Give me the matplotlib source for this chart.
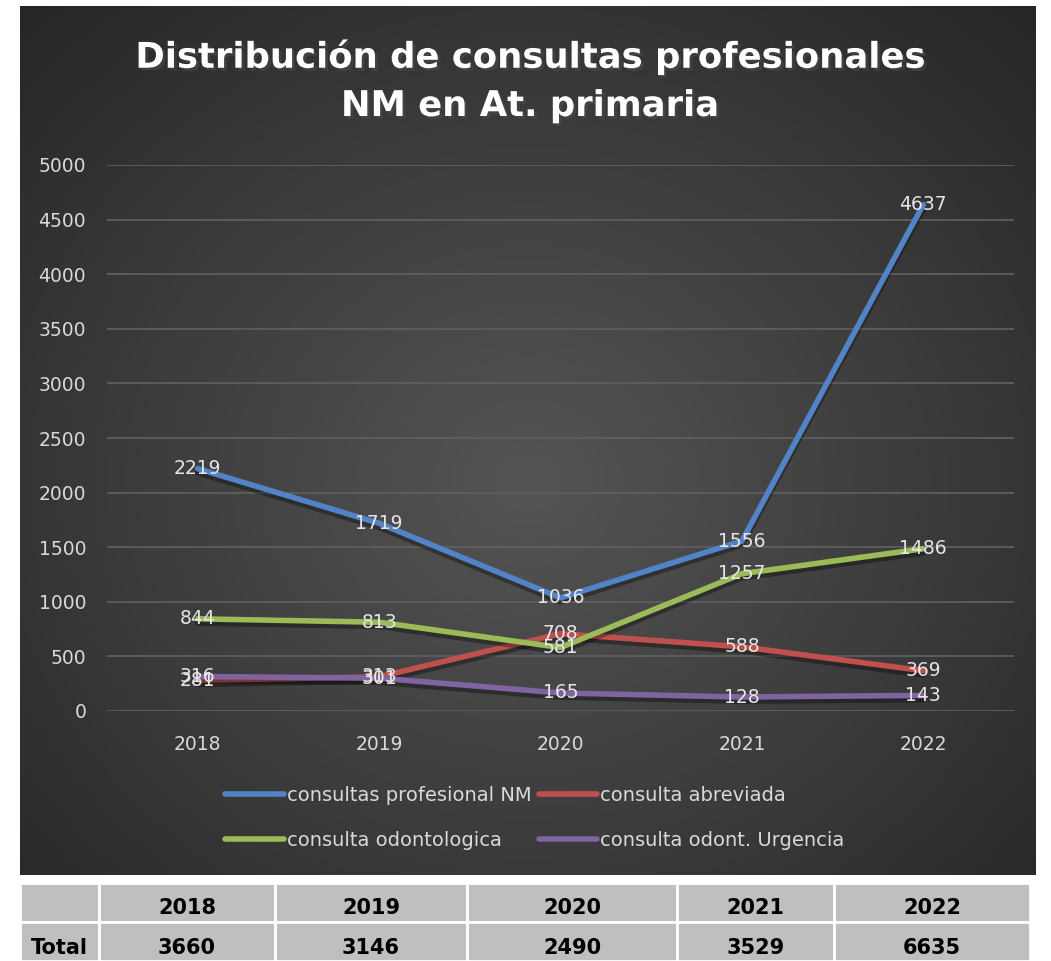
import matplotlib
matplotlib.use("Agg")
import matplotlib.pyplot as plt
import matplotlib.patheffects as pe
import numpy as np

years = ["2018", "2019", "2020", "2021", "2022"]
prof_nm = [2219, 1719, 1036, 1556, 4637]
abreviada = [281, 313, 708, 588, 369]
odonto = [844, 813, 581, 1257, 1486]
urgencia = [316, 301, 165, 128, 143]
totals = [3660, 3146, 2490, 3529, 6635]

series = [
    ("consultas profesional NM", prof_nm, "#5283c6"),
    ("consulta abreviada", abreviada, "#c0504d"),
    ("consulta odontologica", odonto, "#9bbb59"),
    ("consulta odont. Urgencia", urgencia, "#8064a2"),
]

W, H = 1051, 961
fig = plt.figure(figsize=(W / 100, H / 100), dpi=100)
fig.patch.set_facecolor("white")

def box(x0, y0, x1, y1):
    return [x0 / W, 1 - y1 / H, (x1 - x0) / W, (y1 - y0) / H]

# dark background with radial gradient
bg = fig.add_axes(box(20, 6, 1036, 875))
yy, xx = np.mgrid[0:1:400j, 0:1:400j]
r = np.sqrt((xx - 0.5) ** 2 + ((yy - 0.55) * 0.95) ** 2)
r = np.clip(r / 0.72, 0, 1)
c0 = np.array([0x55, 0x55, 0x55]) / 255
c1 = np.array([0x26, 0x26, 0x26]) / 255
img = c0[None, None, :] * (1 - r[..., None]) + c1[None, None, :] * r[..., None]
bg.imshow(img, aspect="auto", extent=[0, 1, 0, 1])
bg.set_axis_off()

title_fx = [pe.withSimplePatchShadow(offset=(2, -2), alpha=0.5)]
fig.text(530 / W, 1 - 57 / H, "Distribución de consultas profesionales",
         ha="center", va="center", color="white", fontsize=25.5, fontweight="bold",
         path_effects=title_fx)
fig.text(530 / W, 1 - 106 / H, "NM en At. primaria",
         ha="center", va="center", color="white", fontsize=25.5, fontweight="bold",
         path_effects=title_fx)

ax = fig.add_axes(box(107, 165, 1014, 711))
ax.set_facecolor("none")
x = np.arange(len(years))
handles = []
for name, vals, col in series:
    ln, = ax.plot(x, vals, color=col, lw=4, solid_capstyle="round", label=name,
                  path_effects=[pe.SimpleLineShadow(offset=(0, -3), alpha=0.35, shadow_color="black"),
                                pe.Normal()])
    handles.append(ln)
    for xi, v in zip(x, vals):
        ax.text(xi, v, str(v), ha="center", va="center", color="#e6e6e6", fontsize=13.5)

ax.set_xlim(-0.5, len(years) - 0.5)
ax.set_ylim(0, 5000)
ax.set_yticks(range(0, 5001, 500))
ax.set_xticks(x)
ax.set_xticklabels(years)
ax.grid(axis="y", color="#5e5e5e", lw=1.3)
ax.set_axisbelow(True)
for s in ax.spines.values():
    s.set_visible(False)
ax.tick_params(colors="#d9d9d9", labelsize=13.5, length=0)
ax.tick_params(axis="y", pad=15)
ax.tick_params(axis="x", pad=17)

leg = fig.legend([handles[0], handles[2], handles[1], handles[3]],
                 [series[0][0], series[2][0], series[1][0], series[3][0]],
                 ncol=2, loc="center", bbox_to_anchor=(535 / W, 1 - 818 / H),
                 frameon=False, fontsize=14, labelcolor="#d9d9d9",
                 handlelength=3.0, handletextpad=0.15, columnspacing=0.4,
                 labelspacing=1.35)
for lh in leg.get_lines():
    lh.set_linewidth(4)
    lh.set_path_effects([])

# table below the chart
col_edges = [20, 99, 275, 467, 677, 834, 1030]
row_edges = [883, 922, 961]
tb = fig.add_axes(box(0, 0, W, H), zorder=5)
tb.set_xlim(0, W)
tb.set_ylim(H, 0)
tb.set_axis_off()
rows = [[""] + years, ["Total"] + [str(t) for t in totals]]
for ri in range(2):
    for ci in range(len(col_edges) - 1):
        x0, x1 = col_edges[ci], col_edges[ci + 1]
        y0, y1 = row_edges[ri], row_edges[ri + 1]
        tb.add_patch(plt.Rectangle((x0, y0), x1 - x0, y1 - y0, facecolor="#bfbfbf",
                                   edgecolor="white", lw=2))
        txt = rows[ri][ci]
        if txt:
            tb.text((x0 + x1) / 2, (y0 + y1) / 2 + 6, txt, ha="center", va="center",
                    fontsize=15, fontweight="bold", color="black")

fig.savefig("out.png", dpi=100)
